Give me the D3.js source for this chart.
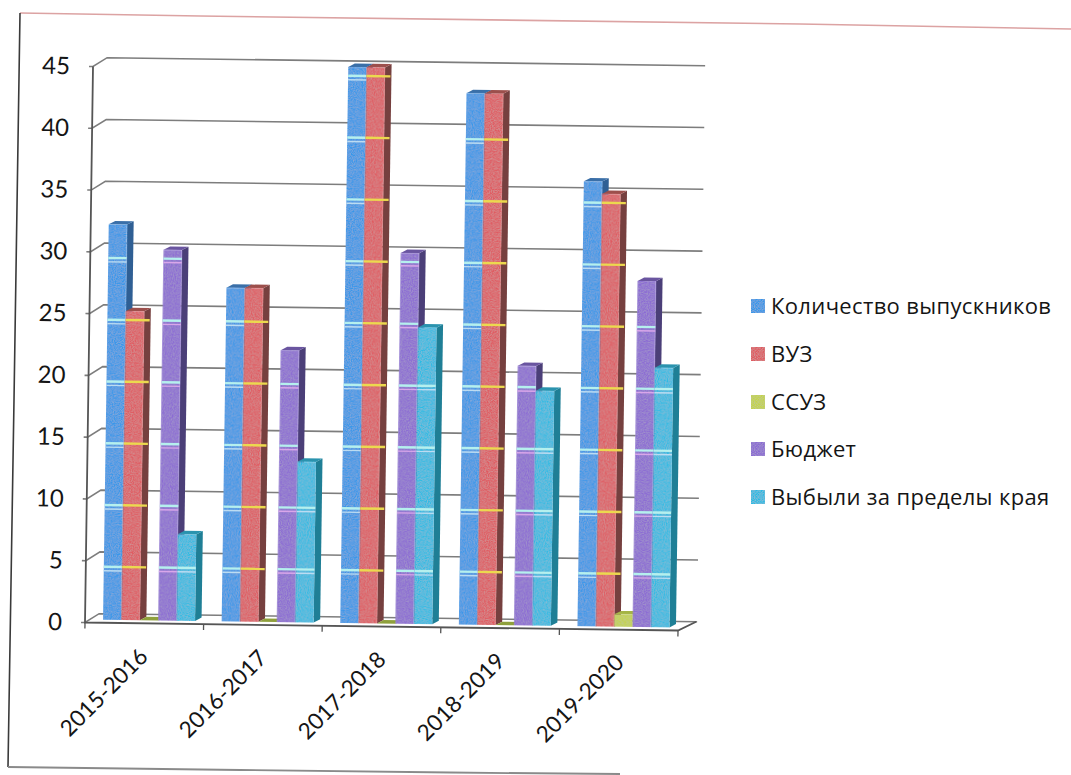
<!DOCTYPE html>
<html>
<head>
<meta charset="utf-8">
<script src="https://cdn.jsdelivr.net/npm/d3@7"></script>
<style>
  html, body { margin: 0; padding: 0; background: #fff; }
  text { fill: #151515; }
</style>
</head>
<body>
<div id="container"></div>
<script>
// declaration
const w = 1071;
const h = 775;
const years = ["2015-2016", "2016-2017", "2017-2018", "2018-2019", "2019-2020"];
const seriesNames = ["Количество выпускников", "ВУЗ", "ССУЗ", "Бюджет", "Выбыли за пределы края"];
const graduates = [32, 27, 45, 43, 36];
const university = [25, 27, 45, 43, 35];
const college = [0, 0, 0, 0, 1];
const budget = [30, 22, 30, 21, 28];
const leftRegion = [7, 13, 24, 19, 21];
const yTicks = [0, 5, 10, 15, 20, 25, 30, 35, 40, 45];
// scanner stripes on the bars, they sit a bit under the gridlines
const stripes = [4.3, 9.3, 14.3, 19.3, 24.3, 29.3, 34.3, 39.3, 44.3];
const colors = ["#3697ea", "#e05a60", "#c4d448", "#8b6bd4", "#2cbbe4"];
const sideColors = ["#2f5f94", "#76403f", "#7f8a3a", "#4b3f78", "#1f7f96"];
const topColors = ["#3a6fa8", "#9c4f4c", "#a4b445", "#6a55a0", "#2a93ae"];
const values = [graduates, university, college, budget, leftRegion];

const plotW = 593, plotH = 556;
const depth = { x: 14, y: -9 };
const barDepth = { x: 6.5, y: -3.5 };

const svg = d3.select("#container").append("svg")
  .attr("width", w).attr("height", h)
  .style("display", "block");

// speckle of the scanned print
const speckle = svg.append("defs").append("filter").attr("id", "speckle")
  .attr("x", 0).attr("y", 0).attr("width", 1).attr("height", 1);
speckle.append("feTurbulence").attr("type", "fractalNoise").attr("baseFrequency", 0.9)
  .attr("numOctaves", 2).attr("seed", 4).attr("result", "n");
speckle.append("feColorMatrix").attr("in", "n").attr("type", "matrix")
  .attr("values", "0 0 0 0 0.5  0 0 0 0 0.5  0 0 0 0 0.5  0.9 0 0 0 -0.28").attr("result", "m");
speckle.append("feComposite").attr("in", "m").attr("in2", "SourceGraphic").attr("operator", "in").attr("result", "c");
speckle.append("feMerge").selectAll("feMergeNode").data(["SourceGraphic", "c"]).enter()
  .append("feMergeNode").attr("in", d => d);

// page frame left on the scan
const frame = svg.append("g").attr("fill", "none");
frame.append("path").attr("d", d3.line()([[20, 13], [200, 16], [800, 24], [1071, 29]]))
  .attr("stroke", "#dca3a3").attr("stroke-width", 1.6);
frame.append("path").attr("d", d3.line()([[20, 13], [14, 400], [8, 767]]))
  .attr("stroke", "#3a3a3a").attr("stroke-width", 1.6);
frame.append("path").attr("d", d3.line()([[8, 767], [240, 770], [450, 772.5], [620, 774]]))
  .attr("stroke", "#8a8a8a").attr("stroke-width", 1.8);

// the whole chart sits a little crooked on the scan
const chart = svg.append("g").attr("transform", "matrix(1,0.0135,-0.0144,1,85,622.5)");

const x = d3.scaleBand().domain(years).range([0, plotW]);
const xInner = d3.scaleBand().domain(d3.range(5)).range([18, 18 + 5 * 18.4]);
const y = d3.scaleLinear().domain([0, 45]).range([0, -plotH]);

// gridlines and walls
chart.append("g").selectAll("path").data(yTicks).enter().append("path")
  .attr("fill", "none").attr("stroke", "#7d7d7d").attr("stroke-width", 1.6)
  .attr("d", d => d3.line()([[-4, y(d)], [0, y(d)], [depth.x, y(d) + depth.y], [plotW + depth.x + 5, y(d) + depth.y]]));
chart.append("path").attr("fill", "none").attr("stroke", "#555").attr("stroke-width", 1.8)
  .attr("d", d3.line()([[0, y(45)], [0, 0], [plotW, 0], [plotW + depth.x + 4, depth.y]]));

// x ticks
chart.append("g").selectAll("line").data(d3.range(6)).enter().append("line")
  .attr("x1", d => d * plotW / 5).attr("x2", d => d * plotW / 5)
  .attr("y1", 0).attr("y2", 6).attr("stroke", "#555").attr("stroke-width", 1.3);

// bars, painted left to right so a neighbour hides the side face
const groups = chart.selectAll(".year").data(years).enter().append("g")
  .attr("class", "year").attr("transform", d => `translate(${x(d)},-3)`);

groups.each(function(yr, gi) {
  const g = d3.select(this);
  d3.range(5).forEach(si => {
    const v = values[si][gi];
    const x0 = xInner(si), bw = xInner.bandwidth(), top = y(v);
    if (v === 0) {
      // empty bar is just the flat floor plate
      g.append("path").attr("fill", "#8fa03c")
        .attr("d", d3.line()([[x0, 0], [x0 + bw, 0], [x0 + bw + barDepth.x, barDepth.y], [x0 + barDepth.x, barDepth.y]]));
      return;
    }
    g.append("path").attr("fill", sideColors[si])
      .attr("d", d3.line()([[x0 + bw, top], [x0 + bw + barDepth.x, top + barDepth.y], [x0 + bw + barDepth.x, barDepth.y], [x0 + bw, 0]]));
    g.append("path").attr("fill", topColors[si])
      .attr("d", d3.line()([[x0, top], [x0 + barDepth.x, top + barDepth.y], [x0 + bw + barDepth.x, top + barDepth.y], [x0 + bw, top]]));
    g.append("rect").attr("x", x0).attr("y", top).attr("width", bw).attr("height", -top)
      .attr("fill", colors[si]).attr("filter", "url(#speckle)");
    stripes.filter(s => s < v).forEach(s => {
      const isRed = si === 1;
      g.append("rect").attr("x", x0).attr("y", y(s) - 1).attr("width", bw + (isRed ? barDepth.x - 1 : 0)).attr("height", 2.4)
        .attr("fill", isRed ? "#ecd94e" : "#b5f0ee");
      if (!isRed) {
        g.append("rect").attr("x", x0).attr("y", y(s) + 3.4).attr("width", bw).attr("height", 1.4)
          .attr("fill", si === 3 ? "#d9a6ea" : "#bcdcf2");
      }
    });
  });
});

// y labels
chart.append("g").selectAll("text").data(yTicks).enter().append("text")
  .attr("x", -23).attr("y", d => y(d) + 8).attr("text-anchor", "end")
  .attr("font-family", "Lato").attr("font-size", 24).text(d => d);

// x labels
svg.append("g").selectAll("text").data(years).enter().append("text")
  .attr("transform", (d, i) => {
    const lx = 85 + x(d) + x.bandwidth() / 2 + 5 + i * 0.4;
    return `translate(${lx},${658 + i * 1.5}) rotate(-45)`;
  })
  .attr("text-anchor", "end").attr("font-family", "Lato").attr("font-size", 22.5).text(d => d);

// legend
const legendY = [306, 354, 402, 449, 497];
const legend = svg.append("g").selectAll("g").data(seriesNames).enter().append("g")
  .attr("transform", (d, i) => `translate(751,${legendY[i]})`);
legend.append("rect").attr("x", 0).attr("y", -7).attr("width", 14).attr("height", 14)
  .attr("fill", (d, i) => colors[i]).attr("filter", "url(#speckle)");
legend.append("text").attr("x", 20).attr("y", 8).attr("font-size", 22)
  .attr("letter-spacing", 0.35).attr("font-family", "Open Sans").text(d => d);
</script>
</body>
</html>
